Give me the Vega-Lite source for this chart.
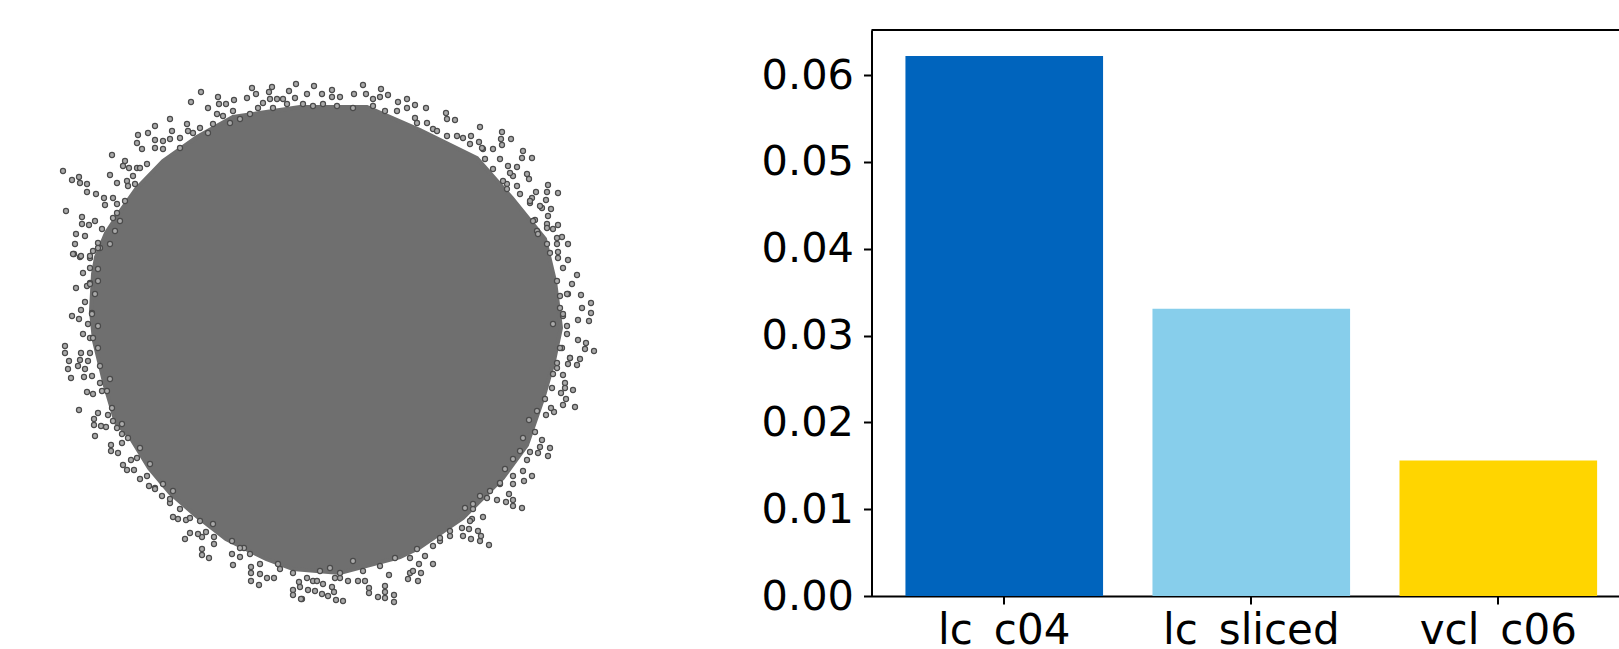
{"$schema":"https://vega.github.io/schema/vega-lite/v6.json","background":"white","padding":{"left":0,"top":29,"right":0,"bottom":0},"bounds":"flush","spacing":171.5,"config":{"view":{"stroke":null},"font":"DejaVu Sans"},"datasets":{"outline":[{"i":1,"x":300,"y":106},{"i":2,"x":233,"y":116},{"i":3,"x":197,"y":136},{"i":4,"x":163,"y":160},{"i":5,"x":136,"y":188},{"i":6,"x":119,"y":212},{"i":7,"x":106,"y":232},{"i":8,"x":96,"y":256},{"i":9,"x":93,"y":273},{"i":10,"x":91,"y":310},{"i":11,"x":94,"y":340},{"i":12,"x":105,"y":385},{"i":13,"x":116,"y":422},{"i":14,"x":130,"y":436},{"i":15,"x":149,"y":467},{"i":16,"x":170,"y":492},{"i":17,"x":195,"y":514},{"i":18,"x":226,"y":538},{"i":19,"x":266,"y":558},{"i":20,"x":293,"y":568},{"i":21,"x":340,"y":572},{"i":22,"x":400,"y":556},{"i":23,"x":419,"y":547},{"i":24,"x":463,"y":517},{"i":25,"x":503,"y":477},{"i":26,"x":527,"y":444},{"i":27,"x":544,"y":395},{"i":28,"x":554,"y":360},{"i":29,"x":561,"y":327},{"i":30,"x":555,"y":280},{"i":31,"x":545,"y":238},{"i":32,"x":512,"y":197},{"i":33,"x":477,"y":157},{"i":34,"x":420,"y":129},{"i":35,"x":367,"y":106}],"nodes":[{"x":63,"y":170},{"x":72,"y":179},{"x":79,"y":176},{"x":80,"y":182},{"x":87,"y":183},{"x":87,"y":191},{"x":96,"y":193},{"x":104,"y":197},{"x":105,"y":204},{"x":66,"y":210},{"x":82,"y":216},{"x":82,"y":223},{"x":89,"y":224},{"x":95,"y":220},{"x":76,"y":233},{"x":75,"y":243},{"x":74,"y":253},{"x":80,"y":256},{"x":85,"y":235},{"x":112,"y":154},{"x":110,"y":174},{"x":117,"y":182},{"x":125,"y":160},{"x":129,"y":167},{"x":138,"y":134},{"x":137,"y":142},{"x":148,"y":132},{"x":155,"y":125},{"x":142,"y":148},{"x":155,"y":139},{"x":170,"y":118},{"x":172,"y":130},{"x":191,"y":101},{"x":201,"y":91},{"x":208,"y":107},{"x":218,"y":96},{"x":219,"y":103},{"x":226,"y":103},{"x":234,"y":99},{"x":247,"y":97},{"x":252,"y":87},{"x":256,"y":93},{"x":272,"y":86},{"x":269,"y":91},{"x":296,"y":83},{"x":289,"y":90},{"x":187,"y":123},{"x":200,"y":127},{"x":180,"y":137},{"x":163,"y":140},{"x":147,"y":163},{"x":137,"y":167},{"x":123,"y":165},{"x":127,"y":180},{"x":113,"y":197},{"x":117,"y":212},{"x":102,"y":228},{"x":98,"y":242},{"x":217,"y":113},{"x":233,"y":110},{"x":263,"y":102},{"x":277,"y":98},{"x":283,"y":98},{"x":314,"y":85},{"x":332,"y":89},{"x":307,"y":93},{"x":332,"y":96},{"x":340,"y":96},{"x":322,"y":93},{"x":363,"y":84},{"x":354,"y":93},{"x":366,"y":93},{"x":381,"y":88},{"x":388,"y":94},{"x":373,"y":98},{"x":380,"y":96},{"x":398,"y":101},{"x":407,"y":98},{"x":415,"y":104},{"x":426,"y":107},{"x":446,"y":112},{"x":455,"y":119},{"x":480,"y":126},{"x":502,"y":131},{"x":501,"y":138},{"x":511,"y":138},{"x":502,"y":144},{"x":471,"y":135},{"x":523,"y":150},{"x":522,"y":157},{"x":532,"y":157},{"x":479,"y":141},{"x":493,"y":148},{"x":508,"y":165},{"x":517,"y":166},{"x":527,"y":173},{"x":529,"y":178},{"x":548,"y":184},{"x":558,"y":192},{"x":536,"y":191},{"x":547,"y":191},{"x":532,"y":197},{"x":546,"y":199},{"x":551,"y":208},{"x":548,"y":215},{"x":535,"y":219},{"x":558,"y":224},{"x":547,"y":223},{"x":553,"y":228},{"x":562,"y":236},{"x":557,"y":243},{"x":568,"y":243},{"x":568,"y":259},{"x":558,"y":251},{"x":520,"y":193},{"x":447,"y":118},{"x":415,"y":117},{"x":433,"y":128},{"x":457,"y":135},{"x":483,"y":148},{"x":500,"y":158},{"x":513,"y":175},{"x":507,"y":183},{"x":530,"y":202},{"x":542,"y":207},{"x":537,"y":230},{"x":577,"y":274},{"x":572,"y":283},{"x":581,"y":294},{"x":591,"y":302},{"x":591,"y":312},{"x":589,"y":320},{"x":578,"y":319},{"x":582,"y":307},{"x":568,"y":293},{"x":567,"y":325},{"x":578,"y":339},{"x":586,"y":342},{"x":594,"y":350},{"x":585,"y":348},{"x":580,"y":358},{"x":577,"y":364},{"x":570,"y":357},{"x":568,"y":363},{"x":563,"y":374},{"x":565,"y":382},{"x":573,"y":389},{"x":565,"y":387},{"x":561,"y":392},{"x":566,"y":398},{"x":563,"y":404},{"x":575,"y":406},{"x":554,"y":411},{"x":546,"y":414},{"x":551,"y":407},{"x":535,"y":431},{"x":529,"y":419},{"x":542,"y":439},{"x":540,"y":446},{"x":550,"y":447},{"x":548,"y":455},{"x":538,"y":452},{"x":530,"y":451},{"x":560,"y":295},{"x":563,"y":315},{"x":567,"y":333},{"x":562,"y":347},{"x":557,"y":367},{"x":532,"y":475},{"x":524,"y":480},{"x":527,"y":459},{"x":522,"y":507},{"x":513,"y":499},{"x":506,"y":501},{"x":513,"y":505},{"x":497,"y":499},{"x":509,"y":493},{"x":489,"y":544},{"x":480,"y":540},{"x":481,"y":535},{"x":478,"y":530},{"x":471,"y":538},{"x":463,"y":535},{"x":469,"y":528},{"x":483,"y":516},{"x":472,"y":518},{"x":433,"y":563},{"x":421,"y":572},{"x":425,"y":555},{"x":419,"y":563},{"x":418,"y":580},{"x":408,"y":578},{"x":389,"y":574},{"x":394,"y":594},{"x":394,"y":601},{"x":385,"y":585},{"x":385,"y":591},{"x":385,"y":597},{"x":378,"y":596},{"x":369,"y":587},{"x":369,"y":592},{"x":343,"y":600},{"x":336,"y":599},{"x":332,"y":586},{"x":334,"y":591},{"x":328,"y":595},{"x":322,"y":593},{"x":315,"y":590},{"x":308,"y":589},{"x":302,"y":598},{"x":340,"y":577},{"x":358,"y":580},{"x":348,"y":580},{"x":365,"y":580},{"x":323,"y":583},{"x":313,"y":580},{"x":410,"y":572},{"x":450,"y":535},{"x":440,"y":540},{"x":473,"y":508},{"x":487,"y":497},{"x":500,"y":483},{"x":513,"y":483},{"x":523,"y":470},{"x":94,"y":424},{"x":101,"y":425},{"x":106,"y":426},{"x":95,"y":435},{"x":111,"y":444},{"x":111,"y":450},{"x":118,"y":452},{"x":122,"y":442},{"x":131,"y":459},{"x":123,"y":464},{"x":127,"y":469},{"x":134,"y":469},{"x":140,"y":478},{"x":149,"y":485},{"x":162,"y":495},{"x":155,"y":487},{"x":170,"y":502},{"x":178,"y":518},{"x":173,"y":516},{"x":186,"y":519},{"x":190,"y":532},{"x":185,"y":538},{"x":202,"y":548},{"x":202,"y":554},{"x":209,"y":557},{"x":214,"y":536},{"x":214,"y":543},{"x":202,"y":536},{"x":206,"y":531},{"x":232,"y":553},{"x":233,"y":564},{"x":240,"y":556},{"x":251,"y":566},{"x":251,"y":572},{"x":251,"y":580},{"x":259,"y":584},{"x":267,"y":577},{"x":274,"y":577},{"x":280,"y":568},{"x":293,"y":589},{"x":293,"y":594},{"x":301,"y":598},{"x":299,"y":581},{"x":300,"y":586},{"x":260,"y":573},{"x":244,"y":547},{"x":198,"y":533},{"x":73,"y":253},{"x":81,"y":255},{"x":83,"y":272},{"x":76,"y":287},{"x":90,"y":282},{"x":85,"y":301},{"x":81,"y":309},{"x":72,"y":315},{"x":79,"y":318},{"x":83,"y":333},{"x":65,"y":345},{"x":65,"y":352},{"x":69,"y":360},{"x":68,"y":368},{"x":71,"y":377},{"x":81,"y":352},{"x":80,"y":359},{"x":78,"y":365},{"x":85,"y":368},{"x":84,"y":376},{"x":87,"y":391},{"x":93,"y":393},{"x":79,"y":409},{"x":98,"y":412},{"x":94,"y":418},{"x":108,"y":414},{"x":90,"y":267},{"x":87,"y":285},{"x":92,"y":312},{"x":88,"y":323},{"x":90,"y":337},{"x":88,"y":360},{"x":92,"y":375},{"x":102,"y":390},{"x":113,"y":420},{"x":122,"y":423},{"x":155,"y":147},{"x":163,"y":148},{"x":170,"y":138},{"x":180,"y":147},{"x":188,"y":130},{"x":193,"y":132},{"x":208,"y":132},{"x":213,"y":123},{"x":223,"y":115},{"x":230,"y":122},{"x":240,"y":118},{"x":250,"y":113},{"x":258,"y":107},{"x":270,"y":98},{"x":273,"y":107},{"x":287,"y":103},{"x":295,"y":97},{"x":140,"y":167},{"x":133,"y":175},{"x":128,"y":185},{"x":135,"y":183},{"x":125,"y":200},{"x":117,"y":203},{"x":120,"y":220},{"x":113,"y":217},{"x":115,"y":230},{"x":110,"y":243},{"x":100,"y":247},{"x":93,"y":250},{"x":90,"y":257},{"x":303,"y":103},{"x":313,"y":105},{"x":323,"y":103},{"x":337,"y":105},{"x":353,"y":107},{"x":373,"y":105},{"x":385,"y":110},{"x":397,"y":110},{"x":407,"y":107},{"x":417,"y":122},{"x":427,"y":122},{"x":437,"y":130},{"x":447,"y":135},{"x":463,"y":137},{"x":470,"y":143},{"x":482,"y":147},{"x":485,"y":158},{"x":493,"y":168},{"x":510,"y":172},{"x":503,"y":180},{"x":517,"y":185},{"x":507,"y":188},{"x":530,"y":200},{"x":540,"y":205},{"x":533,"y":220},{"x":547,"y":227},{"x":538,"y":233},{"x":547,"y":243},{"x":557,"y":237},{"x":550,"y":252},{"x":558,"y":257},{"x":563,"y":267},{"x":557,"y":280},{"x":567,"y":293},{"x":560,"y":307},{"x":563,"y":313},{"x":553,"y":323},{"x":560,"y":347},{"x":570,"y":357},{"x":557,"y":362},{"x":553,"y":373},{"x":552,"y":387},{"x":545,"y":398},{"x":537,"y":410},{"x":523,"y":437},{"x":520,"y":450},{"x":513,"y":458},{"x":505,"y":468},{"x":513,"y":475},{"x":500,"y":482},{"x":490,"y":490},{"x":480,"y":495},{"x":473,"y":503},{"x":465,"y":507},{"x":470,"y":520},{"x":462,"y":527},{"x":450,"y":530},{"x":440,"y":537},{"x":433,"y":545},{"x":417,"y":548},{"x":410,"y":557},{"x":413,"y":570},{"x":395,"y":557},{"x":380,"y":565},{"x":363,"y":570},{"x":353,"y":560},{"x":340,"y":572},{"x":330,"y":567},{"x":320,"y":570},{"x":307,"y":577},{"x":335,"y":577},{"x":317,"y":580},{"x":293,"y":572},{"x":278,"y":563},{"x":260,"y":563},{"x":250,"y":553},{"x":232,"y":540},{"x":240,"y":547},{"x":213,"y":523},{"x":200,"y":520},{"x":190,"y":517},{"x":180,"y":508},{"x":170,"y":498},{"x":173,"y":490},{"x":155,"y":488},{"x":163,"y":483},{"x":147,"y":475},{"x":150,"y":463},{"x":137,"y":457},{"x":140,"y":447},{"x":122,"y":433},{"x":128,"y":437},{"x":117,"y":427},{"x":112,"y":407},{"x":107,"y":390},{"x":100,"y":382},{"x":110,"y":378},{"x":100,"y":365},{"x":90,"y":352},{"x":98,"y":347},{"x":93,"y":337},{"x":98,"y":325},{"x":92,"y":313},{"x":95,"y":293},{"x":90,"y":283},{"x":98,"y":280},{"x":98,"y":268},{"x":90,"y":255},{"x":98,"y":247}],"bars":[{"method":"lc_c04","value":0.0622},{"method":"lc_sliced","value":0.0331},{"method":"vcl_c06","value":0.0156}]},"hconcat":[{"width":700,"height":566,"layer":[{"data":{"name":"outline"},"mark":{"type":"line","filled":true,"fill":"#6f6f6f","stroke":"#6f6f6f","strokeWidth":4,"interpolate":"linear-closed"},"encoding":{"x":{"field":"x","type":"quantitative","axis":null,"scale":{"domain":[0,700],"nice":false,"zero":false}},"y":{"field":"y","type":"quantitative","axis":null,"scale":{"domain":[595,29],"nice":false,"zero":false}},"order":{"field":"i","type":"quantitative"}}},{"data":{"name":"nodes"},"mark":{"type":"point","filled":true,"shape":"circle","size":26,"fill":"#aaaaaa","stroke":"#4a4a4a","strokeWidth":1.2,"opacity":1},"encoding":{"x":{"field":"x","type":"quantitative","axis":null},"y":{"field":"y","type":"quantitative","axis":null}}}]},{"width":747.5,"height":566,"layer":[{"data":{"name":"bars"},"mark":{"type":"bar"},"encoding":{"x":{"field":"method","type":"nominal","sort":null,"title":null,"scale":{"paddingInner":0.2,"paddingOuter":0.113,"align":0.608},"axis":{"labelAngle":0,"labelFontSize":42,"labelColor":"#000000","labelFont":"DejaVu Sans","tickSize":8,"tickWidth":2,"tickColor":"#000000","domainWidth":2,"domainColor":"#000000","labelPadding":6.5,"grid":false,"labelOverlap":false,"labelFlush":false}},"y":{"field":"value","type":"quantitative","title":null,"scale":{"domain":[0,0.0652],"nice":false},"axis":{"values":[0,0.01,0.02,0.03,0.04,0.05,0.06],"format":".2f","labelFontSize":41.5,"labelColor":"#000000","labelFont":"DejaVu Sans","tickSize":8,"tickWidth":2,"tickColor":"#000000","domainWidth":2,"domainColor":"#000000","labelPadding":10,"labelOffset":1,"grid":false}},"color":{"field":"method","type":"nominal","legend":null,"scale":{"domain":["lc_c04","lc_sliced","vcl_c06"],"range":["#0064BD","#87CEEB","#FFD500"]}}}},{"data":{"values":[{"top":0.0652}]},"mark":{"type":"rule","color":"#000000","strokeWidth":2},"encoding":{"y":{"field":"top","type":"quantitative"}}}]}]}
